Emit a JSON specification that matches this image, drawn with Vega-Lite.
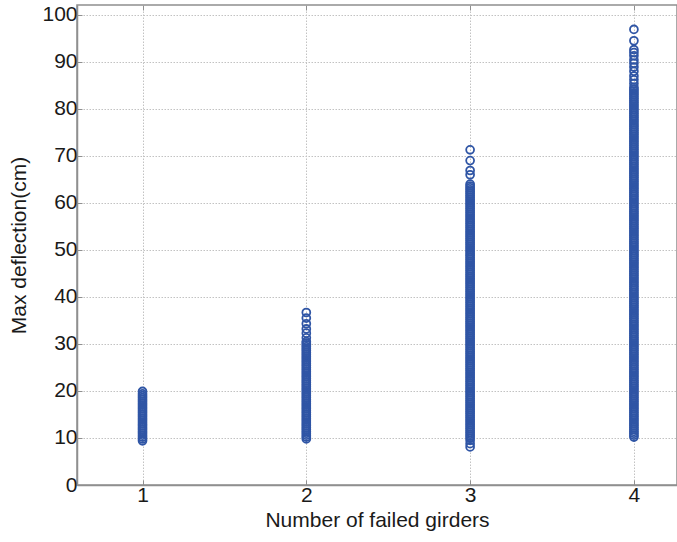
{
"$schema": "https://vega.github.io/schema/vega-lite/v6.json",
"width": 600,
"height": 480,
"autosize": {"type": "none"},
"padding": {"left": 77, "top": 5, "right": 0, "bottom": 57},
"background": "white",
"config": {
  "view": {"stroke": "#8f8f8f", "strokeWidth": 1.5},
  "font": "Liberation Sans",
  "axis": {
    "domainColor": "#8f8f8f", "domainWidth": 1.5,
    "tickColor": "#8f8f8f", "tickSize": -5, "tickWidth": 1,
    "gridColor": "#c2c2c2", "gridDash": [1.5, 1.5], "gridWidth": 1,
    "labelFont": "Liberation Sans", "labelFontSize": 21, "labelColor": "#1a1a1a",
    "titleFont": "Liberation Sans", "titleFontSize": 21, "titleFontWeight": "normal", "titleColor": "#1a1a1a"
  }
},
"data": {"values": [
{"n":1,"d":9.4},{"n":1,"d":9.8},{"n":1,"d":10.2},{"n":1,"d":10.6},{"n":1,"d":11},{"n":1,"d":11.4},{"n":1,"d":11.8},{"n":1,"d":12.2},{"n":1,"d":12.6},{"n":1,"d":13},{"n":1,"d":13.4},{"n":1,"d":13.8},{"n":1,"d":14.2},{"n":1,"d":14.6},{"n":1,"d":15},{"n":1,"d":15.4},{"n":1,"d":15.8},{"n":1,"d":16.2},{"n":1,"d":16.6},{"n":1,"d":17},{"n":1,"d":17.4},{"n":1,"d":17.8},{"n":1,"d":18.2},{"n":1,"d":18.6},{"n":1,"d":19},{"n":1,"d":19.4},{"n":1,"d":19.9},
{"n":2,"d":9.8},{"n":2,"d":10.2},{"n":2,"d":10.6},{"n":2,"d":11},{"n":2,"d":11.4},{"n":2,"d":11.8},{"n":2,"d":12.2},{"n":2,"d":12.6},{"n":2,"d":13},{"n":2,"d":13.4},{"n":2,"d":13.8},{"n":2,"d":14.2},{"n":2,"d":14.6},{"n":2,"d":15},{"n":2,"d":15.4},{"n":2,"d":15.8},{"n":2,"d":16.2},{"n":2,"d":16.6},{"n":2,"d":17},{"n":2,"d":17.4},{"n":2,"d":17.8},{"n":2,"d":18.2},{"n":2,"d":18.6},{"n":2,"d":19},{"n":2,"d":19.4},{"n":2,"d":19.8},{"n":2,"d":20.2},{"n":2,"d":20.6},{"n":2,"d":21},{"n":2,"d":21.4},{"n":2,"d":21.8},{"n":2,"d":22.2},{"n":2,"d":22.6},{"n":2,"d":23},{"n":2,"d":23.4},{"n":2,"d":23.8},{"n":2,"d":24.2},{"n":2,"d":24.6},{"n":2,"d":25},{"n":2,"d":25.4},{"n":2,"d":25.8},{"n":2,"d":26.2},{"n":2,"d":26.6},{"n":2,"d":27},{"n":2,"d":27.4},{"n":2,"d":27.8},{"n":2,"d":28.2},{"n":2,"d":28.6},{"n":2,"d":29},{"n":2,"d":29.4},{"n":2,"d":29.8},{"n":2,"d":30.2},{"n":2,"d":30.5},{"n":2,"d":31.3},{"n":2,"d":32.3},{"n":2,"d":33.2},{"n":2,"d":34.3},{"n":2,"d":35.5},{"n":2,"d":36.7},
{"n":3,"d":8.1},{"n":3,"d":8.8},{"n":3,"d":9.5},
{"n":3,"d":10},{"n":3,"d":10.4},{"n":3,"d":10.8},{"n":3,"d":11.2},{"n":3,"d":11.6},
{"n":3,"d":12},{"n":3,"d":12.4},{"n":3,"d":12.8},{"n":3,"d":13.2},{"n":3,"d":13.6},
{"n":3,"d":14},{"n":3,"d":14.4},{"n":3,"d":14.8},{"n":3,"d":15.2},{"n":3,"d":15.6},
{"n":3,"d":16},{"n":3,"d":16.4},{"n":3,"d":16.8},{"n":3,"d":17.2},{"n":3,"d":17.6},
{"n":3,"d":18},{"n":3,"d":18.4},{"n":3,"d":18.8},{"n":3,"d":19.2},{"n":3,"d":19.6},
{"n":3,"d":20},{"n":3,"d":20.4},{"n":3,"d":20.8},{"n":3,"d":21.2},{"n":3,"d":21.6},
{"n":3,"d":22},{"n":3,"d":22.4},{"n":3,"d":22.8},{"n":3,"d":23.2},{"n":3,"d":23.6},
{"n":3,"d":24},{"n":3,"d":24.4},{"n":3,"d":24.8},{"n":3,"d":25.2},{"n":3,"d":25.6},
{"n":3,"d":26},{"n":3,"d":26.4},{"n":3,"d":26.8},{"n":3,"d":27.2},{"n":3,"d":27.6},
{"n":3,"d":28},{"n":3,"d":28.4},{"n":3,"d":28.8},{"n":3,"d":29.2},{"n":3,"d":29.6},
{"n":3,"d":30},{"n":3,"d":30.4},{"n":3,"d":30.8},{"n":3,"d":31.2},{"n":3,"d":31.6},
{"n":3,"d":32},{"n":3,"d":32.4},{"n":3,"d":32.8},{"n":3,"d":33.2},{"n":3,"d":33.6},
{"n":3,"d":34},{"n":3,"d":34.4},{"n":3,"d":34.8},{"n":3,"d":35.2},{"n":3,"d":35.6},
{"n":3,"d":36},{"n":3,"d":36.4},{"n":3,"d":36.8},{"n":3,"d":37.2},{"n":3,"d":37.6},
{"n":3,"d":38},{"n":3,"d":38.4},{"n":3,"d":38.8},{"n":3,"d":39.2},{"n":3,"d":39.6},
{"n":3,"d":40},{"n":3,"d":40.4},{"n":3,"d":40.8},{"n":3,"d":41.2},{"n":3,"d":41.6},
{"n":3,"d":42},{"n":3,"d":42.4},{"n":3,"d":42.8},{"n":3,"d":43.2},{"n":3,"d":43.6},
{"n":3,"d":44},{"n":3,"d":44.4},{"n":3,"d":44.8},{"n":3,"d":45.2},{"n":3,"d":45.6},
{"n":3,"d":46},{"n":3,"d":46.4},{"n":3,"d":46.8},{"n":3,"d":47.2},{"n":3,"d":47.6},
{"n":3,"d":48},{"n":3,"d":48.4},{"n":3,"d":48.8},{"n":3,"d":49.2},{"n":3,"d":49.6},
{"n":3,"d":50},{"n":3,"d":50.4},{"n":3,"d":50.8},{"n":3,"d":51.2},{"n":3,"d":51.6},
{"n":3,"d":52},{"n":3,"d":52.4},{"n":3,"d":52.8},{"n":3,"d":53.2},{"n":3,"d":53.6},
{"n":3,"d":54},{"n":3,"d":54.4},{"n":3,"d":54.8},{"n":3,"d":55.2},{"n":3,"d":55.6},
{"n":3,"d":56},{"n":3,"d":56.4},{"n":3,"d":56.8},{"n":3,"d":57.2},{"n":3,"d":57.6},
{"n":3,"d":58},{"n":3,"d":58.4},{"n":3,"d":58.8},{"n":3,"d":59.2},{"n":3,"d":59.6},
{"n":3,"d":60},{"n":3,"d":60.4},{"n":3,"d":60.8},{"n":3,"d":61.2},{"n":3,"d":61.6},
{"n":3,"d":62},{"n":3,"d":62.4},{"n":3,"d":62.8},{"n":3,"d":63.2},{"n":3,"d":63.6},
{"n":3,"d":64},{"n":3,"d":66},{"n":3,"d":66.9},{"n":3,"d":69},{"n":3,"d":71.3},
{"n":4,"d":10.2},{"n":4,"d":10.6},{"n":4,"d":11},{"n":4,"d":11.4},{"n":4,"d":11.8},
{"n":4,"d":12.2},{"n":4,"d":12.6},{"n":4,"d":13},{"n":4,"d":13.4},{"n":4,"d":13.8},
{"n":4,"d":14.2},{"n":4,"d":14.6},{"n":4,"d":15},{"n":4,"d":15.4},{"n":4,"d":15.8},
{"n":4,"d":16.2},{"n":4,"d":16.6},{"n":4,"d":17},{"n":4,"d":17.4},{"n":4,"d":17.8},
{"n":4,"d":18.2},{"n":4,"d":18.6},{"n":4,"d":19},{"n":4,"d":19.4},{"n":4,"d":19.8},
{"n":4,"d":20.2},{"n":4,"d":20.6},{"n":4,"d":21},{"n":4,"d":21.4},{"n":4,"d":21.8},
{"n":4,"d":22.2},{"n":4,"d":22.6},{"n":4,"d":23},{"n":4,"d":23.4},{"n":4,"d":23.8},
{"n":4,"d":24.2},{"n":4,"d":24.6},{"n":4,"d":25},{"n":4,"d":25.4},{"n":4,"d":25.8},
{"n":4,"d":26.2},{"n":4,"d":26.6},{"n":4,"d":27},{"n":4,"d":27.4},{"n":4,"d":27.8},
{"n":4,"d":28.2},{"n":4,"d":28.6},{"n":4,"d":29},{"n":4,"d":29.4},{"n":4,"d":29.8},
{"n":4,"d":30.2},{"n":4,"d":30.6},{"n":4,"d":31},{"n":4,"d":31.4},{"n":4,"d":31.8},
{"n":4,"d":32.2},{"n":4,"d":32.6},{"n":4,"d":33},{"n":4,"d":33.4},{"n":4,"d":33.8},
{"n":4,"d":34.2},{"n":4,"d":34.6},{"n":4,"d":35},{"n":4,"d":35.4},{"n":4,"d":35.8},
{"n":4,"d":36.2},{"n":4,"d":36.6},{"n":4,"d":37},{"n":4,"d":37.4},{"n":4,"d":37.8},
{"n":4,"d":38.2},{"n":4,"d":38.6},{"n":4,"d":39},{"n":4,"d":39.4},{"n":4,"d":39.8},
{"n":4,"d":40.2},{"n":4,"d":40.6},{"n":4,"d":41},{"n":4,"d":41.4},{"n":4,"d":41.8},
{"n":4,"d":42.2},{"n":4,"d":42.6},{"n":4,"d":43},{"n":4,"d":43.4},{"n":4,"d":43.8},
{"n":4,"d":44.2},{"n":4,"d":44.6},{"n":4,"d":45},{"n":4,"d":45.4},{"n":4,"d":45.8},
{"n":4,"d":46.2},{"n":4,"d":46.6},{"n":4,"d":47},{"n":4,"d":47.4},{"n":4,"d":47.8},
{"n":4,"d":48.2},{"n":4,"d":48.6},{"n":4,"d":49},{"n":4,"d":49.4},{"n":4,"d":49.8},
{"n":4,"d":50.2},{"n":4,"d":50.6},{"n":4,"d":51},{"n":4,"d":51.4},{"n":4,"d":51.8},
{"n":4,"d":52.2},{"n":4,"d":52.6},{"n":4,"d":53},{"n":4,"d":53.4},{"n":4,"d":53.8},
{"n":4,"d":54.2},{"n":4,"d":54.6},{"n":4,"d":55},{"n":4,"d":55.4},{"n":4,"d":55.8},
{"n":4,"d":56.2},{"n":4,"d":56.6},{"n":4,"d":57},{"n":4,"d":57.4},{"n":4,"d":57.8},
{"n":4,"d":58.2},{"n":4,"d":58.6},{"n":4,"d":59},{"n":4,"d":59.4},{"n":4,"d":59.8},
{"n":4,"d":60.2},{"n":4,"d":60.6},{"n":4,"d":61},{"n":4,"d":61.4},{"n":4,"d":61.8},
{"n":4,"d":62.2},{"n":4,"d":62.6},{"n":4,"d":63},{"n":4,"d":63.4},{"n":4,"d":63.8},
{"n":4,"d":64.2},{"n":4,"d":64.6},{"n":4,"d":65},{"n":4,"d":65.4},{"n":4,"d":65.8},
{"n":4,"d":66.2},{"n":4,"d":66.6},{"n":4,"d":67},{"n":4,"d":67.4},{"n":4,"d":67.8},
{"n":4,"d":68.2},{"n":4,"d":68.6},{"n":4,"d":69},{"n":4,"d":69.4},{"n":4,"d":69.8},
{"n":4,"d":70.2},{"n":4,"d":70.6},{"n":4,"d":71},{"n":4,"d":71.4},{"n":4,"d":71.8},
{"n":4,"d":72.2},{"n":4,"d":72.6},{"n":4,"d":73},{"n":4,"d":73.4},{"n":4,"d":73.8},
{"n":4,"d":74.2},{"n":4,"d":74.6},{"n":4,"d":75},{"n":4,"d":75.4},{"n":4,"d":75.8},
{"n":4,"d":76.2},{"n":4,"d":76.6},{"n":4,"d":77},{"n":4,"d":77.4},{"n":4,"d":77.8},
{"n":4,"d":78.2},{"n":4,"d":78.6},{"n":4,"d":79},{"n":4,"d":79.4},{"n":4,"d":79.8},
{"n":4,"d":80.2},{"n":4,"d":80.6},{"n":4,"d":81},{"n":4,"d":81.4},{"n":4,"d":81.8},
{"n":4,"d":82.2},{"n":4,"d":82.6},{"n":4,"d":83},{"n":4,"d":83.4},{"n":4,"d":83.8},
{"n":4,"d":84.2},{"n":4,"d":84.6},{"n":4,"d":85.4},{"n":4,"d":86.2},{"n":4,"d":87},{"n":4,"d":88},{"n":4,"d":88.9},{"n":4,"d":89.7},{"n":4,"d":90.4},{"n":4,"d":91.3},{"n":4,"d":92},{"n":4,"d":92.6},{"n":4,"d":94.5},{"n":4,"d":96.9}
]},
"layer": [
  {
    "mark": {"type": "point", "shape": "circle", "size": 62, "strokeWidth": 1.8, "color": "#2f55a5", "filled": false, "opacity": 1, "clip": true},
    "encoding": {
      "x": {"field": "n", "type": "quantitative",
            "scale": {"domain": [0.6, 4.263], "nice": false, "zero": false},
            "axis": {"values": [1, 2, 3, 4], "title": "Number of failed girders", "labelPadding": 4, "titlePadding": 4}},
      "y": {"field": "d", "type": "quantitative",
            "scale": {"domain": [0, 102.1], "nice": false, "zero": false},
            "axis": {"values": [0, 10, 20, 30, 40, 50, 60, 70, 80, 90, 100], "title": "Max deflection(cm)", "labelPadding": 5, "titlePadding": 12}}
    }
  },
  {
    "mark": {"type": "point", "opacity": 0},
    "encoding": {
      "x": {"field": "n", "type": "quantitative",
            "scale": {"domain": [0.6, 4.263], "nice": false, "zero": false},
            "axis": {"orient": "top", "values": [1, 2, 3, 4], "labels": false, "title": null, "grid": false, "domain": false}},
      "y": {"field": "d", "type": "quantitative"}
    }
  }
],
"resolve": {"axis": {"x": "independent"}}
}
